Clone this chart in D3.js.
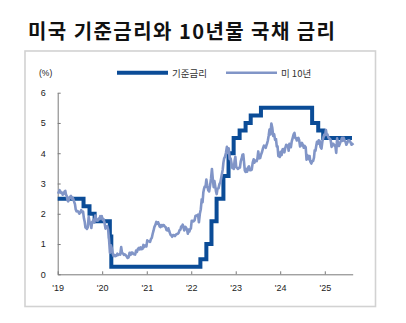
<!DOCTYPE html>
<html>
<head>
<meta charset="utf-8">
<script src="https://cdn.jsdelivr.net/npm/d3@7"></script>
<style>
  html, body { margin: 0; padding: 0; background: #fff; }
  svg { display: block; }
</style>
</head>
<body>
<svg id="chart" width="406" height="323"></svg>
<script>
// Fed policy rate (upper bound): date of change and new level
const fedDates = ["2019-01-01","2019-08-01","2019-09-19","2019-10-31","2020-03-04","2020-03-16",
  "2022-03-17","2022-05-05","2022-06-16","2022-07-28","2022-09-22","2022-11-03","2022-12-15",
  "2023-02-02","2023-03-23","2023-05-04","2023-07-27","2024-09-19","2024-11-08","2024-12-19","2025-08-12"];
const fedRates = [2.5,2.25,2.0,1.75,1.25,0.25,
  0.5,1.0,1.75,2.5,3.25,4.0,4.5,
  4.75,5.0,5.25,5.5,5.0,4.75,4.5,4.5];

// US 10-year Treasury yield, weekly readings grouped by month (Jan 2019 onward)
const ustMonths = d3.range(0, 80).map(i => new Date(2019, i, 1));
const ust10y = [
  [2.66,2.72,2.78,2.74,2.69],[2.70,2.63,2.66,2.73],[2.76,2.63,2.59,2.44,2.41],[2.50,2.56,2.59,2.50],
  [2.53,2.47,2.39,2.32,2.14],[2.08,2.09,2.06,2.00],[2.04,2.12,2.05,2.07],[1.85,1.74,1.55,1.53,1.50],
  [1.55,1.90,1.72,1.68],[1.53,1.73,1.75,1.80,1.71],[1.94,1.83,1.77,1.78],[1.84,1.82,1.92,1.88,1.92],
  [1.80,1.82,1.70,1.51],[1.58,1.59,1.47,1.15],[0.71,0.96,0.85,0.67],[0.60,0.64,0.60,0.61],
  [0.68,0.64,0.66,0.65],[0.90,0.70,0.69,0.64],[0.66,0.63,0.59,0.54],[0.56,0.71,0.64,0.72],
  [0.72,0.67,0.66,0.65],[0.78,0.74,0.84,0.87],[0.82,0.89,0.83,0.84],[0.97,0.90,0.95,0.94,0.92],
  [1.12,1.09,1.09,1.07],[1.17,1.21,1.34,1.44],[1.57,1.63,1.73,1.67],[1.72,1.66,1.58,1.56,1.63],
  [1.58,1.63,1.63,1.58],[1.56,1.46,1.45,1.52],[1.43,1.36,1.30,1.28,1.24],[1.30,1.29,1.26,1.31],
  [1.33,1.34,1.37,1.46],[1.47,1.58,1.57,1.64,1.55],[1.45,1.57,1.54,1.47],[1.34,1.48,1.41,1.49,1.51],
  [1.77,1.77,1.75,1.78],[1.93,1.94,1.93,1.97],[1.72,2.00,2.15,2.48],[2.38,2.70,2.83,2.90,2.89],
  [3.13,2.92,2.78,2.74],[2.94,3.16,3.48,3.13],[2.88,3.08,2.92,2.75,2.65],[2.83,2.84,2.98,3.04],
  [3.19,3.32,3.45,3.69,3.83],[3.88,4.01,4.21,4.01],[4.16,3.81,3.83,3.68],[3.51,3.58,3.48,3.75,3.88],
  [3.55,3.51,3.48,3.52],[3.53,3.74,3.82,3.95],[3.96,3.70,3.43,3.38,3.48],[3.39,3.52,3.57,3.44],
  [3.44,3.46,3.69,3.80],[3.69,3.76,3.76,3.74,3.82],[4.06,3.83,3.84,3.96],[4.04,4.16,4.25,4.24],
  [4.18,4.26,4.33,4.43,4.57],[4.78,4.62,4.98,4.84],[4.57,4.63,4.44,4.47],[4.22,4.23,3.91,3.90,3.88],
  [4.05,3.94,4.13,4.14],[4.03,4.18,4.28,4.25],[4.25,4.08,4.31,4.22,4.20],[4.39,4.50,4.62,4.67],
  [4.50,4.50,4.42,4.47,4.51],[4.43,4.22,4.26,4.34],[4.28,4.18,4.24,4.20],[3.79,3.94,3.89,3.80,3.91],
  [3.72,3.66,3.73,3.75],[3.85,4.10,4.08,4.24,4.38],[4.31,4.43,4.41,4.20],[4.15,4.40,4.52,4.62],
  [4.60,4.77,4.61,4.62,4.54],[4.49,4.48,4.43,4.21],[4.31,4.31,4.25,4.25],[4.01,4.49,4.33,4.24],
  [4.31,4.38,4.44,4.51,4.41],[4.51,4.42,4.38,4.28],[4.35,4.42,4.43,4.39],[4.28,4.33]
];

const yTicks = [0,1,2,3,4,5,6];
const xTickYears = [2019,2020,2021,2022,2023,2024,2025];
const xTickLabels = ["'19","'20","'21","'22","'23","'24","'25"];
const seriesNames = ["기준금리","미 10년"];
const titleText = "미국 기준금리와 10년물 국채 금리";

const parse = d3.timeParse("%Y-%m-%d");
const fedData = fedDates.map((d, i) => ({ date: parse(d), value: fedRates[i] }));

const ustData = [];
ust10y.forEach((vals, m) => {
  const start = ustMonths[m], end = new Date(start.getFullYear(), start.getMonth() + 1, 1);
  vals.forEach((v, j) => {
    const t = start.getTime() + (end - start) * (j + 0.5) / vals.length;
    ustData.push({ date: new Date(t), value: v });
  });
});

const svg = d3.select("#chart");
const font = "'Liberation Sans', Arial, sans-serif";

// outer frame
svg.append("rect")
  .attr("x", 25).attr("y", 51).attr("width", 350.5).attr("height", 255.5)
  .attr("fill", "none").attr("stroke", "#d2d2d2").attr("stroke-width", 1.6);

// title
svg.append("text")
  .attr("x", 28).attr("y", 39)
  .attr("font-family", "'Noto Sans CJK KR', sans-serif")
  .attr("font-weight", 700).attr("font-size", 20)
  .attr("textLength", 307).attr("lengthAdjust", "spacing")
  .attr("fill", "#111")
  .text(titleText);

const x = d3.scaleTime()
  .domain([new Date(2019, 0, 1), new Date(2025, 7, 18)])
  .range([57.7, 352.7]);
const y = d3.scaleLinear().domain([0, 6]).range([274.3, 92.7]);

// y axis
const yAxis = svg.append("g")
  .attr("transform", `translate(${x.range()[0]},0)`)
  .call(d3.axisLeft(y).tickValues(yTicks).tickFormat(d3.format("d"))
    .tickSize(-3).tickPadding(12).tickSizeOuter(0));
yAxis.select(".domain").attr("stroke", "#7a7a7a");
yAxis.selectAll(".tick line").attr("stroke", "#7a7a7a");
yAxis.selectAll("text").attr("font-family", font).attr("font-size", 9).attr("fill", "#222");

// x axis
const xAxis = svg.append("g")
  .attr("transform", `translate(0,${y(0)})`)
  .call(d3.axisBottom(x)
    .tickValues(xTickYears.map(yr => new Date(yr, 0, 1)))
    .tickFormat((d, i) => xTickLabels[i])
    .tickSize(-3).tickPadding(10).tickSizeOuter(0));
xAxis.select(".domain").attr("stroke", "#7a7a7a");
xAxis.selectAll(".tick line").attr("stroke", "#7a7a7a");
xAxis.selectAll("text").attr("font-family", font).attr("font-size", 9).attr("fill", "#222");

// unit label
svg.append("text")
  .attr("x", 39).attr("y", 76)
  .attr("font-family", font).attr("font-size", 8.5).attr("fill", "#222")
  .text("(%)");

const darkBlue = "#0b4c97";
const lightBlue = "#8195c7";

// policy rate step line
svg.append("path")
  .datum(fedData)
  .attr("fill", "none")
  .attr("stroke", darkBlue)
  .attr("stroke-width", 4)
  .attr("stroke-linejoin", "miter")
  .attr("d", d3.line().curve(d3.curveStepAfter).x(d => x(d.date)).y(d => y(d.value)));

// 10-year yield line
svg.append("path")
  .datum(ustData)
  .attr("fill", "none")
  .attr("stroke", lightBlue)
  .attr("stroke-width", 2.6)
  .attr("stroke-linejoin", "round")
  .attr("d", d3.line().x(d => x(d.date)).y(d => y(d.value)));

// legend
const legend = [
  { name: seriesNames[0], color: darkBlue, width: 4, x0: 117, x1: 168, tx: 172 },
  { name: seriesNames[1], color: lightBlue, width: 2.6, x0: 226, x1: 277, tx: 281 }
];
legend.forEach(l => {
  svg.append("line")
    .attr("x1", l.x0).attr("x2", l.x1).attr("y1", 72.7).attr("y2", 72.7)
    .attr("stroke", l.color).attr("stroke-width", l.width);
  svg.append("text")
    .attr("x", l.tx).attr("y", 76.5)
    .attr("font-family", "'Noto Sans CJK KR', sans-serif")
    .attr("font-size", 9.5).attr("fill", "#333")
    .text(l.name);
});
</script>
</body>
</html>
